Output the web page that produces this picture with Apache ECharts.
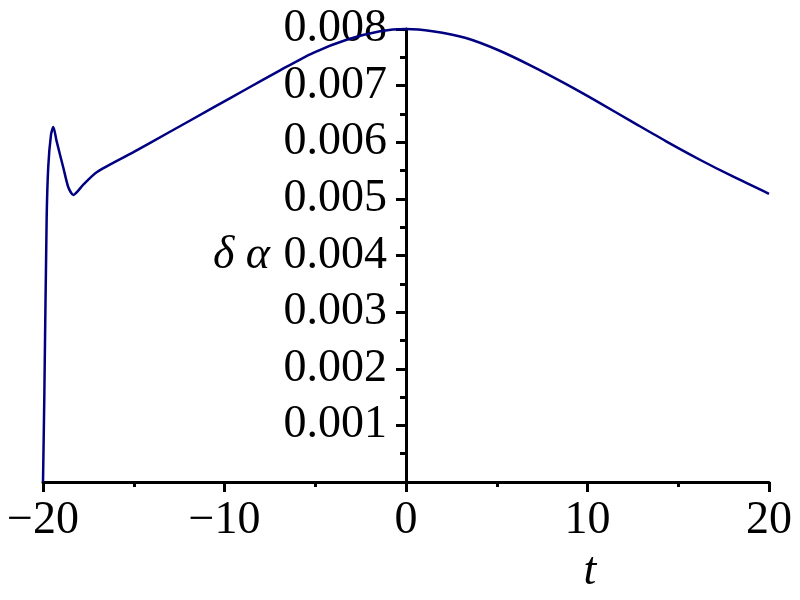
<!DOCTYPE html>
<html>
<head>
<meta charset="utf-8">
<script src="https://cdn.jsdelivr.net/npm/echarts@6/dist/echarts.min.js"></script>
<style>html,body{margin:0;padding:0;background:#fff}#c{width:800px;height:600px}</style>
</head>
<body>
<div id="c"></div>
<script>
// Data
var tValues = [-20, -19.93, -19.80, -19.71, -19.56, -19.43, -19.25, -18.88, -18.6, -18.33, -17.78, -17.04, -15.04, -13.2, -10.63, -8.79, -6.94, -5.11, -3.27, -1.43, 0, 1.46, 3.3, 5.13, 6.96, 8.8, 10.64, 12.47, 14.31, 16.14, 17.98, 20];
var deltaAlpha = [0, 0.00145, 0.00463, 0.00557, 0.00613, 0.00627, 0.00602, 0.00555, 0.00520, 0.00507, 0.00525, 0.00547, 0.00582, 0.00615, 0.00661, 0.00694, 0.00727, 0.00758, 0.00781, 0.00796, 0.00800, 0.00796, 0.00784, 0.00762, 0.00734, 0.00703, 0.00670, 0.00636, 0.00602, 0.00570, 0.00540, 0.00509];
var xTicks = [-20, -10, 0, 10, 20];
var yTicks = [0.001, 0.002, 0.003, 0.004, 0.005, 0.006, 0.007, 0.008];
var xName = 't';
var yName = 'δ α';

var points = tValues.map(function (t, i) { return [t, deltaAlpha[i]]; });
var serif = 'Liberation Serif';
var gridLeft = 43, gridRight = 31, chartW = 800;
var xMin = xTicks[0], xMax = xTicks[xTicks.length - 1];
// shift the y axis so it sits at t = 0
var yAxisShift = -(chartW - gridLeft - gridRight) * (0 - xMin) / (xMax - xMin);
var chart = echarts.init(document.getElementById('c'));
chart.setOption({
  animation: false,
  backgroundColor: '#ffffff',
  grid: { left: gridLeft, right: gridRight, top: 29, bottom: 118, containLabel: false, outerBoundsMode: 'none' },
  xAxis: {
    type: 'value', min: xMin, max: xMax, interval: 10,
    name: xName, nameLocation: 'middle', nameGap: 66,
    nameTextStyle: { fontFamily: serif, fontStyle: 'italic', fontSize: 46, color: '#000', padding: [0, 0, 0, 368] },
    axisLine: { onZero: true, lineStyle: { color: '#000', width: 3 } },
    axisTick: { show: true, length: 10, lineStyle: { color: '#000', width: 3 } },
    minorTick: { show: true, splitNumber: 2, length: 5, lineStyle: { color: '#000', width: 3 } },
    splitLine: { show: false },
    axisLabel: {
      fontFamily: serif, fontSize: 46, color: '#000', margin: 16,
      formatter: function (v) { return xTicks.indexOf(v) >= 0 ? String(v).replace('-', '\u2212') : ''; }
    }
  },
  yAxis: {
    type: 'value', min: 0, max: yTicks[yTicks.length - 1], interval: 0.001,
    offset: yAxisShift,
    name: yName, nameLocation: 'middle', nameGap: 136, nameRotate: 0,
    nameTextStyle: { fontFamily: serif, fontStyle: 'italic', fontSize: 46, color: '#000', align: 'right', verticalAlign: 'middle' },
    axisLine: { onZero: false, lineStyle: { color: '#000', width: 3 } },
    axisTick: { show: true, length: 10, lineStyle: { color: '#000', width: 3 } },
    minorTick: { show: true, splitNumber: 2, length: 6, lineStyle: { color: '#000', width: 3 } },
    splitLine: { show: false },
    axisLabel: {
      fontFamily: serif, fontSize: 46, color: '#000', margin: 19,
      formatter: function (v) {
        for (var i = 0; i < yTicks.length; i++) { if (Math.abs(v - yTicks[i]) < 1e-9) return yTicks[i].toFixed(3); }
        return '';
      }
    }
  },
  series: [{
    type: 'line', data: points, showSymbol: false, smooth: 0.25,
    lineStyle: { color: '#000080', width: 2.5 }, clip: false
  }]
});
</script>
</body>
</html>
